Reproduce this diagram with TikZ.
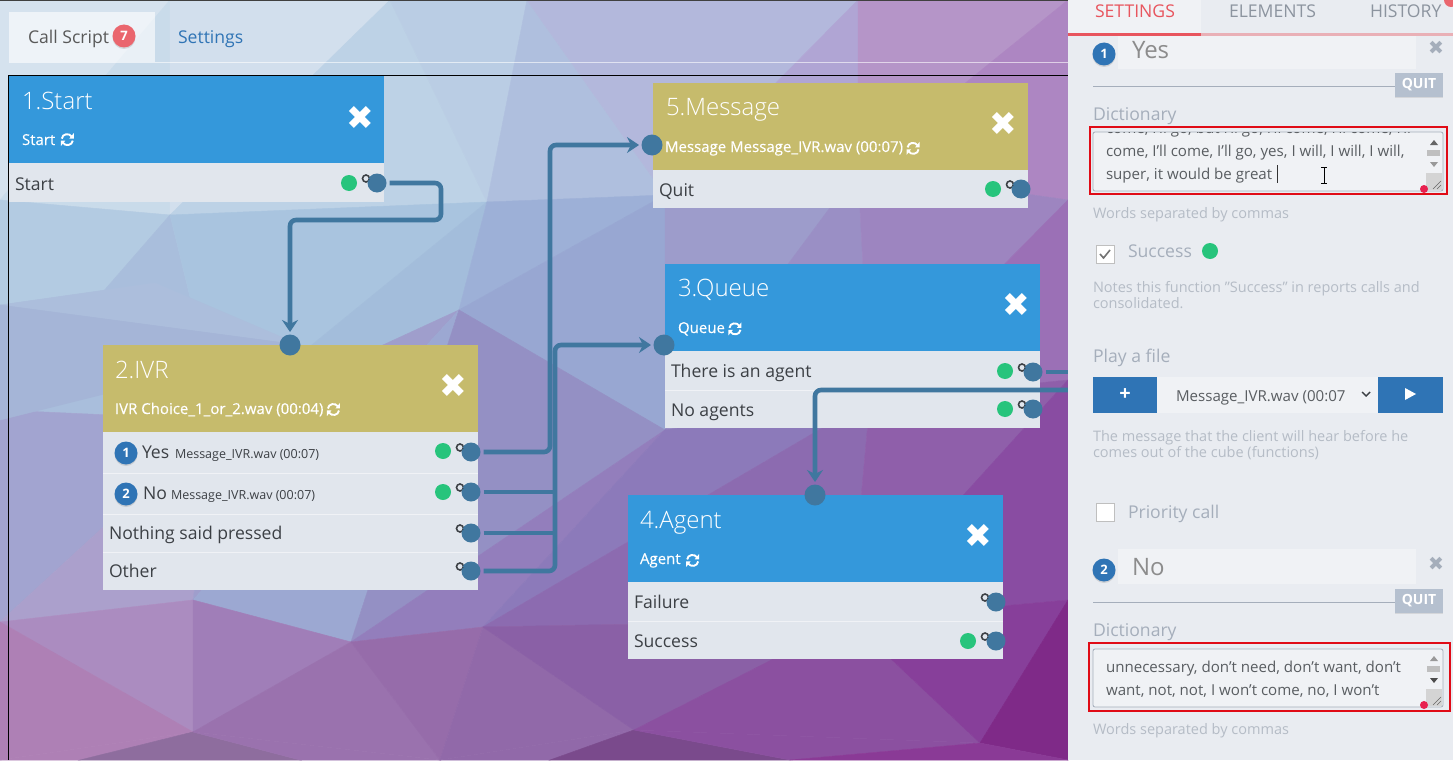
\documentclass[tikz,border=0pt]{standalone}
\usepackage{fontspec}
\usepackage{amsmath}
\usepackage{tikz}
\usetikzlibrary{arrows.meta,shadows}
\setmainfont{Open Sans}
\newfontfamily\symfont{DejaVu Sans}
\newfontfamily\lightfont{Open Sans Light}
\newfontfamily\subfont[FakeBold=0.3]{Open Sans}

\definecolor{bluehead}{HTML}{3498DB}
\definecolor{olivehead}{HTML}{C6BB6C}
\definecolor{rowgrey}{HTML}{E1E6ED}
\definecolor{wireblue}{HTML}{40779F}
\definecolor{okgreen}{HTML}{27C47C}
\definecolor{badgeblue}{HTML}{2F74B5}
\definecolor{panelgrey}{HTML}{E9ECF1}
\definecolor{inputgrey}{HTML}{F0F2F5}
\definecolor{hintgrey}{HTML}{B5BCC6}
\definecolor{labelgrey}{HTML}{A5AEBB}
\definecolor{tabred}{HTML}{E8555E}
\definecolor{alertred}{HTML}{E00B16}
\definecolor{quitgrey}{HTML}{B5C0CF}
\definecolor{inktext}{HTML}{3C4045}
\definecolor{dotred}{HTML}{E8214F}

\newcommand{\fs}[1]{\fontsize{#1}{#1}\selectfont}

\tikzset{
  headbox/.style={anchor=north west,minimum width=375pt,minimum height=87pt},
  rowbox/.style={anchor=north west,minimum width=375pt,fill=rowgrey},
  titletext/.style={anchor=base west,text=white,font=\lightfont\fs{24}},
  subtext/.style={anchor=base west,text=white,font=\subfont\fs{15}},
  rowtext/.style={anchor=base west,text=inktext,font=\fs{17.6}},
  smalltext/.style={anchor=base west,text=inktext,font=\fs{12.5}},
  closemark/.style={text=white,font=\symfont\fs{33},yshift=-1pt},
  port/.style={circle,fill=wireblue,minimum size=19pt},
  inport/.style={circle,fill=wireblue,minimum size=21pt},
  ring/.style={circle,draw=inktext,line width=1.6pt,minimum size=7pt},
  gooddot/.style={circle,fill=okgreen,minimum size=16pt},
  numbadge/.style={circle,fill=badgeblue,text=white,font=\bfseries\fs{13},minimum size=23pt,
    drop shadow={shadow xshift=0pt,shadow yshift=-1.5pt,opacity=0.25}},
  wire/.style={draw=wireblue,line width=4.6pt,rounded corners=6pt,shorten <=3pt},
  wirearrow/.style={wire,shorten >=2.5pt,-{Stealth[length=12pt,width=16pt,inset=4pt]}},
  hint/.style={anchor=base west,text=hintgrey,font=\fs{14.5}},
  fieldlabel/.style={anchor=base west,text=labelgrey,font=\fs{17.6}},
  areatext/.style={anchor=base west,text=inktext!85,font=\fs{15.1}},
  panelmark/.style={text=labelgrey,font=\symfont\fs{19}},
  quitbtn/.style={anchor=north west,fill=quitgrey,text=white,font=\bfseries\fs{14},minimum width=48pt,minimum height=24pt,
    drop shadow={shadow xshift=0pt,shadow yshift=-1pt,opacity=0.2}},
  bluebtn/.style={anchor=north west,fill=badgeblue,text=white,minimum height=36pt},
  checkbox/.style={anchor=north west,fill=white,draw=black!25,line width=1pt,minimum size=18pt},
  redframe/.style={draw=alertred,line width=2pt},
  textarea/.style={draw=labelgrey,fill=inputgrey,rounded corners=2pt,line width=0.8pt},
  reddot/.style={circle,fill=dotred,minimum size=8pt},
  refreshicon/.pic={
    \draw[white,line width=1.9pt] (-5.5,-1) .. controls (-5,-6) and (2,-7) .. (4.5,-3);
    \draw[white,line width=1.9pt] (5.5,1) .. controls (5,6) and (-2,7) .. (-4.5,3);
    \fill[white] (6.5,-6.5) -- (6.5,-1) -- (2,-1) -- cycle;
    \fill[white] (-6.5,6.5) -- (-6.5,1) -- (-2,1) -- cycle;
  }
}

\begin{document}
\begin{tikzpicture}[x=1pt,y=-1pt,every node/.style={inner sep=0,outer sep=0}]
  \useasboundingbox (0,0) rectangle (1453,760);

  % background facets
  \foreach \ax/\ay/\bx/\by/\cx/\cy/\hex in {
    0/0/170/0/0/200/D5E2EE, 170/0/170/215/0/200/C9DBEA,
    170/0/390/0/170/215/D2DFED, 390/0/487/202/170/215/BDD2E6,
    390/0/527/0/487/202/BACDE4, 527/0/665/195/487/202/AFBFDE,
    527/0/858/0/665/195/B3B8DC, 858/0/858/170/665/195/B0A5D4,
    858/0/1068/0/858/170/B595C8, 1068/0/1068/200/858/170/AD86C2,
    0/200/170/215/0/410/B3CBE2, 170/215/220/420/0/410/A9BEDC,
    170/215/487/202/220/420/A9C4DF, 487/202/459/310/220/420/A3BDDB,
    487/202/665/195/459/310/9DB0D7, 665/195/665/430/459/310/98A7D2,
    665/195/858/170/665/430/9D9CCB, 858/170/870/400/665/430/9A8FC5,
    858/170/1068/200/870/400/9D85C0, 1068/200/1068/380/870/400/9B70B6,
    0/410/220/420/0/622/A2A4D0, 220/420/193/600/0/622/ABA0CC,
    220/420/459/310/193/600/9F9ECC, 459/310/351/642/193/600/9CA8D2,
    459/310/665/430/351/642/9490C4, 665/430/483/627/351/642/937EBC,
    665/430/870/400/483/627/8C7ABA, 870/400/850/620/483/627/8C6BB0,
    870/400/1068/380/850/620/8F5FAA, 1068/380/1068/600/850/620/894CA2,
    0/622/193/600/193/732/AB8CC0, 0/622/193/732/0/760/AE80B5,
    193/600/351/642/193/732/A07EB8, 351/642/440/760/193/732/9A72AE,
    351/642/483/627/440/760/966CAA, 483/627/634/730/440/760/9169A9,
    483/627/850/620/634/730/8A60A6, 850/620/980/743/634/730/8B50A0,
    850/620/1068/600/980/743/873F9A, 1068/600/1068/760/980/743/7F2A88,
    0/760/193/732/80/760/AE80B5, 80/760/193/732/300/760/8E6D9E,
    300/760/193/732/440/760/9A72AE, 440/760/634/730/550/760/9169A9,
    550/760/634/730/790/760/7A4A8C, 790/760/634/730/980/743/8B50A0,
    790/760/980/743/1068/760/8A3A96, 0/305/155/283/300/345/ACBEDC,
    0/305/300/345/0/420/A5B5D7}{
    \definecolor{facet}{HTML}{\hex}
    \fill[facet,draw=facet,line width=0.5pt] (\ax,\ay) -- (\bx,\by) -- (\cx,\cy) -- cycle;
  }

  % tabs and frame
  \draw[black!75,line width=0.8pt] (0,0.4) -- (1068,0.4);
  \draw[white,opacity=0.6,line width=0.8pt] (155,62.5) -- (1068,62.5);
  \draw[black,line width=0.8pt] (8,760) -- (8,75) -- (1068,75);
  \node[anchor=north west,fill=white,fill opacity=0.6,minimum width=146pt,minimum height=51pt] (tabbox) at (9,12) {};
  \node[rowtext,text=black!65] (tabcall) at (28,44) {Call Script};
  \node[circle,fill=tabred!90!white,text=white,font=\bfseries\fs{13},minimum size=23pt,drop shadow={shadow xshift=0pt,shadow yshift=-1.5pt,opacity=0.25}] (tabcount) at (124,36) {7};
  \node[rowtext,text=badgeblue] (tabset) at (178,44) {Settings};

  % 1.Start
  \node[headbox,fill=bluehead] (1h) at (9,76) {};
  \node[titletext] (1t) at (22,109) {1.Start};
  \node[subtext] (1s) at (22,145) {Start};
  \pic at ([xshift=12pt]1s.east) {refreshicon};
  \node[closemark] (1x) at (360,117) {✖};
  \node[rowbox,minimum height=39pt] (1a) at (9,163) {};
  \node[rowtext] (1at) at (15,190) {Start};

  % 5.Message
  \node[headbox,fill=olivehead] (5h) at (653,83) {};
  \node[titletext] (5t) at (666,115) {5.Message};
  \node[subtext] (5s) at (665,152) {Message Message\_IVR.wav (00:07)};
  \pic at ([xshift=10pt]5s.east) {refreshicon};
  \node[closemark] (5x) at (1003,123) {✖};
  \node[rowbox,minimum height=38pt] (5a) at (653,170) {};
  \node[rowtext] (5at) at (659,196) {Quit};

  % 3.Queue
  \node[headbox,fill=bluehead] (3h) at (665,264) {};
  \node[titletext] (3t) at (678,296) {3.Queue};
  \node[subtext] (3s) at (678,333) {Queue};
  \pic at ([xshift=10pt]3s.east) {refreshicon};
  \node[closemark] (3x) at (1016,304) {✖};
  \node[rowbox,minimum height=39pt] (3a) at (665,351) {};
  \node[rowbox,minimum height=38pt] (3b) at (665,390) {};
  \node[rowtext] (3at) at (671,377) {There is an agent};
  \node[rowtext] (3bt) at (671,416) {No agents};

  % 2.IVR
  \node[headbox,fill=olivehead] (2h) at (103,345) {};
  \node[titletext] (2t) at (115,378) {2.IVR};
  \node[subtext] (2s) at (115,414) {IVR Choice\_1\_or\_2.wav (00:04)};
  \pic at ([xshift=10pt]2s.east) {refreshicon};
  \node[closemark] (2x) at (453,385) {✖};
  \node[rowbox,minimum height=41pt] (2a) at (103,432) {};
  \node[rowbox,minimum height=41pt] (2b) at (103,473) {};
  \node[rowbox,minimum height=38pt] (2c) at (103,514) {};
  \node[rowbox,minimum height=38pt] (2d) at (103,552) {};
  \node[numbadge] (2an) at (126,453) {1};
  \node[rowtext] (2at) at (142,458) {Yes};
  \node[smalltext] (2af) at (175,458) {Message\_IVR.wav (00:07)};
  \node[numbadge] (2bn) at (126,494) {2};
  \node[rowtext] (2bt) at (143,499) {No};
  \node[smalltext] (2bf) at (171,499) {Message\_IVR.wav (00:07)};
  \node[rowtext] (2ct) at (109,539) {Nothing said pressed};
  \node[rowtext] (2dt) at (109,577) {Other};

  % 4.Agent
  \node[headbox,fill=bluehead] (4h) at (628,495) {};
  \node[titletext] (4t) at (640,528) {4.Agent};
  \node[subtext] (4s) at (640,564) {Agent};
  \pic at ([xshift=12pt]4s.east) {refreshicon};
  \node[closemark] (4x) at (978,535) {✖};
  \node[rowbox,minimum height=39pt] (4a) at (628,582) {};
  \node[rowbox,minimum height=38pt] (4b) at (628,621) {};
  \node[rowtext] (4at) at (634,608) {Failure};
  \node[rowtext] (4bt) at (634,647) {Success};

  % row rules
  \foreach \n in {3a,2a,2b,2c,4a}{
    \draw[white,opacity=0.5] (\n.south west) -- (\n.south east);
  }

  % success dots
  \foreach \n/\x/\y in {d1/349/183,d2/443/451,d3/443/492,d4/993/189,d5/1005/371,d6/1005/409,d7/968/641}{
    \node[gooddot] (\n) at (\x,\y) {};
  }

  % out ports with their link rings
  \foreach \n/\x/\y in {1o/377/183,2y/471/452,2n/471/492,2x/471/533,2o/471/571,5o/1021/189,3o/1033/372,3n/1033/409,4f/996/602,4s/996/641}{
    \node[ring] (r\n) at (\x-11,\y-4.5) {};
    \node[port] (\n) at (\x,\y) {};
    \draw[inktext,line width=1.4pt] (r\n) -- (\n);
  }

  % in ports
  \node[inport] (2i) at (290,345) {};
  \node[inport] (5i) at (652,145) {};
  \node[inport] (3i) at (664,345) {};
  \node[inport] (4i) at (815,495) {};

  % bends and free ends
  \coordinate (c1) at (441,220);
  \coordinate (c2) at (550,300);
  \coordinate (c3) at (555,492);
  \coordinate (c4) at (555,533);
  \coordinate (c5) at (555,450);
  \coordinate (c6) at (1068,372);
  \coordinate (c7) at (1068,390);

  \draw[wirearrow] (1o) -| (c1) -| (2i);
  \draw[wirearrow] (2y) -| (c2) |- (5i);
  \draw[wire] (2n) -- (c3);
  \draw[wire] (2x) -- (c4);
  \draw[wirearrow] (2o) -| (c5) |- (3i);
  \draw[wire] (3o) -- (c6);
  \draw[wirearrow,shorten <=0pt] (c7) -| (4i);

  % settings panel
  \fill[panelgrey] (1068,0) rectangle (1453,760);
  \fill[inputgrey] (1068,0) rectangle (1201,33);
  \fill[tabred] (1068,33) rectangle (1201,36);
  \fill[tabred!40!panelgrey] (1201,33) rectangle (1453,36);
  \node[rowtext,text=tabred] (pset) at (1095,18) {SETTINGS};
  \node[rowtext,text=labelgrey!85!black] (pele) at (1229,18) {ELEMENTS};
  \node[rowtext,text=labelgrey!85!black] (phis) at (1370,18) {HISTORY};
  \node[circle,fill=tabred!90!white,minimum size=14pt] (pcount) at (1451,0) {};

  % answer 1
  \fill[inputgrey] (1118,36) rectangle (1416,69);
  \node[numbadge] (a1n) at (1104,54) {1};
  \node[rowtext,text=black!45,font=\fs{24}] (a1t) at (1132,59) {Yes};
  \node[panelmark] (a1x) at (1436,48) {✖};
  \draw[labelgrey] (1093,86.5) -- (1395,86.5);
  \node[quitbtn] (a1q) at (1395,73) {QUIT};
  \node[fieldlabel] (a1d) at (1093,120) {Dictionary};
  \draw[textarea] (1093,132) rectangle (1443,191);
  \begin{scope}
    \clip (1094,132.5) rectangle (1426,190);
    \node[areatext] (a1l0) at (1106,133) {come, I’ll go, but I’ll go, I’ll come, I’ll come, I’ll};
    \node[areatext] (a1l1) at (1106,156) {come, I’ll come, I’ll go, yes, I will, I will, I will,};
    \node[areatext] (a1l2) at (1106,179) {super, it would be great};
  \end{scope}
  \draw[black!80,line width=0.8pt] (1277,165) -- (1277,183);
  \draw[black,line width=0.7pt] (1324,168) -- (1324,183) (1321,167.5) -- (1327,167.5) (1321,183.5) -- (1327,183.5);
  \fill[black!60] (1430,145) -- (1438,145) -- (1434,140) -- cycle;
  \fill[black!25] (1427,150) rectangle (1440,156);
  \fill[black!40] (1430,162) -- (1438,162) -- (1434,167) -- cycle;
  \fill[black!17] (1426,173) rectangle (1442,190);
  \draw[black!60,line width=0.5pt] (1433,189) -- (1441,181) (1437,189) -- (1441,185);
  \node[reddot] (a1r) at (1424,189) {};
  \draw[redframe] (1090,127) rectangle (1447,194);
  \node[hint] (a1w) at (1093,218) {Words separated by commas};

  \node[checkbox] (a1c) at (1096,245) {};
  \draw[black!55,line width=1.6pt] (1100,254) -- (1103.5,258) -- (1110,250);
  \node[fieldlabel] (a1s) at (1128,257) {Success};
  \node[gooddot] (a1g) at (1210,251) {};
  \node[hint] (a1n1) at (1093,292) {Notes this function "Success" in reports calls and};
  \node[hint] (a1n2) at (1093,308) {consolidated.};

  \node[fieldlabel] (a1p) at (1093,362) {Play a file};
  \fill[inputgrey] (1157,377) rectangle (1378,413);
  \node[bluebtn,minimum width=64pt,font=\bfseries\fs{20}] (btnadd) at (1093,377) {+};
  \node[bluebtn,minimum width=65pt] (btnplay) at (1378,377) {};
  \fill[white] (1405,388) -- (1405,400) -- (1416,394) -- cycle;
  \node[areatext] (a1f) at (1176,401) {Message\_IVR.wav (00:07};
  \draw[inktext,line width=1.4pt] (1362,392) -- (1366,396) -- (1370,392);
  \node[hint] (a1h1) at (1093,441) {The message that the client will hear before he};
  \node[hint] (a1h2) at (1093,457) {comes out of the cube (functions)};

  \node[checkbox] (a1k) at (1096,503) {};
  \node[fieldlabel] (a1u) at (1128,518) {Priority call};

  % answer 2
  \fill[inputgrey] (1118,549) rectangle (1416,584);
  \node[numbadge] (a2n) at (1104,570) {2};
  \node[rowtext,text=black!45,font=\fs{24}] (a2t) at (1132,575) {No};
  \node[panelmark] (a2x) at (1436,564) {✖};
  \draw[labelgrey] (1093,602) -- (1395,602);
  \node[quitbtn] (a2q) at (1395,589) {QUIT};
  \node[fieldlabel] (a2d) at (1093,636) {Dictionary};
  \draw[textarea] (1093,649) rectangle (1443,707);
  \node[areatext] (a2l1) at (1106,672) {unnecessary, don’t need, don’t want, don’t};
  \node[areatext] (a2l2) at (1106,695) {want, not, not, I won’t come, no, I won’t};
  \fill[black!40] (1430,661) -- (1438,661) -- (1434,656) -- cycle;
  \fill[black!25] (1427,666) rectangle (1440,672);
  \fill[black!70] (1430,678) -- (1438,678) -- (1434,683) -- cycle;
  \fill[black!17] (1426,689) rectangle (1442,706);
  \draw[black!60,line width=0.5pt] (1433,705) -- (1441,697) (1437,705) -- (1441,701);
  \node[reddot] (a2r) at (1424,705) {};
  \draw[redframe] (1089,643) rectangle (1450,711);
  \node[hint] (a2w) at (1093,734) {Words separated by commas};
\end{tikzpicture}
\end{document}
